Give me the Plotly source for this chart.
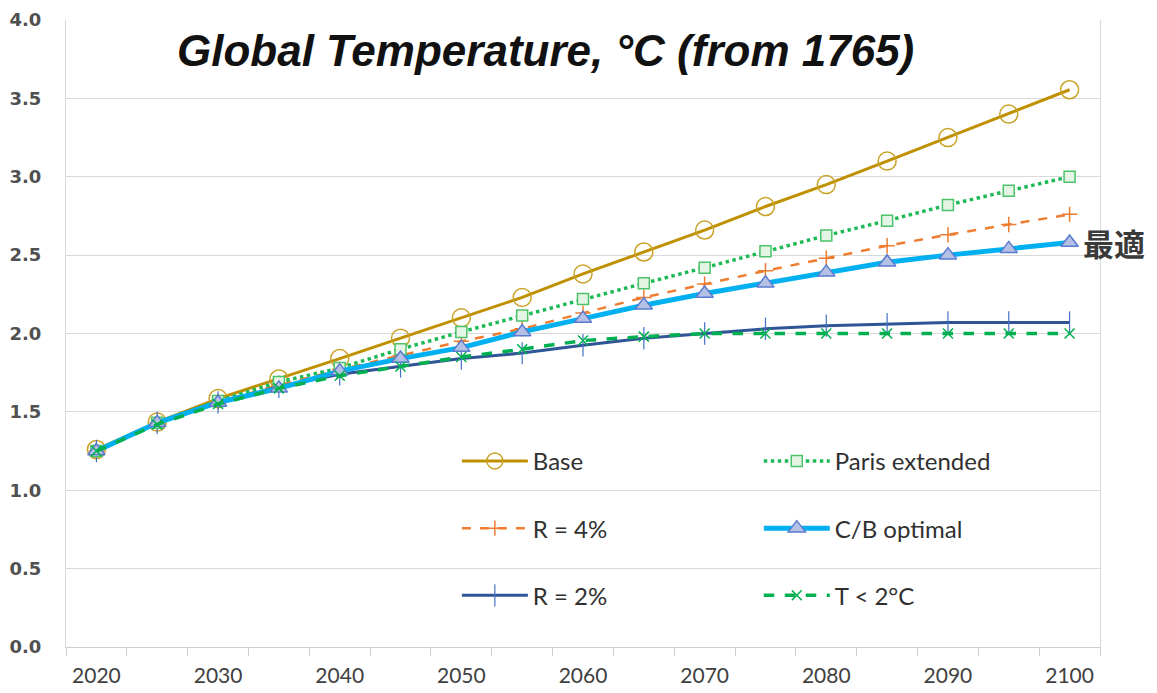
import plotly.graph_objects as go

years = [2020, 2025, 2030, 2035, 2040, 2045, 2050, 2055, 2060, 2065, 2070, 2075, 2080, 2085, 2090, 2095, 2100]

base = [1.26, 1.435, 1.585, 1.71, 1.84, 1.97, 2.10, 2.23, 2.38, 2.52, 2.66, 2.81, 2.95, 3.10, 3.25, 3.40, 3.555]
paris = [1.25, 1.43, 1.57, 1.69, 1.78, 1.90, 2.01, 2.115, 2.22, 2.32, 2.42, 2.525, 2.625, 2.72, 2.82, 2.91, 3.00]
r4 = [1.25, 1.43, 1.565, 1.67, 1.77, 1.86, 1.95, 2.03, 2.13, 2.23, 2.315, 2.40, 2.48, 2.56, 2.63, 2.695, 2.76]
cb = [1.25, 1.43, 1.56, 1.65, 1.76, 1.84, 1.91, 2.01, 2.095, 2.18, 2.255, 2.32, 2.39, 2.455, 2.50, 2.54, 2.58]
r2 = [1.25, 1.43, 1.56, 1.66, 1.74, 1.79, 1.84, 1.875, 1.925, 1.97, 2.00, 2.03, 2.05, 2.06, 2.07, 2.07, 2.07]
t2 = [1.25, 1.42, 1.55, 1.65, 1.73, 1.79, 1.85, 1.90, 1.955, 1.98, 2.00, 2.00, 2.00, 2.00, 2.00, 2.00, 2.00]

x_labels = [2020, 2030, 2040, 2050, 2060, 2070, 2080, 2090, 2100]
y_ticks = [0.0, 0.5, 1.0, 1.5, 2.0, 2.5, 3.0, 3.5, 4.0]

title_text = "Global Temperature, °C (from 1765)"
opt_label = "最適"

fig = go.Figure()

fig.add_trace(go.Scatter(
    x=years, y=base, name="Base", mode="lines+markers", legend="legend", legendgroup="a",
    line=dict(color="#BF9000", width=3),
    marker=dict(symbol="circle-open", size=18, color="#C9A227", line=dict(width=1.5))))
fig.add_trace(go.Scatter(
    x=years, y=r4, name="R = 4%", mode="lines+markers", legend="legend", legendgroup="b",
    line=dict(color="#ED7D31", width=2.5, dash="dash"),
    marker=dict(symbol="cross-thin-open", size=11, color="#ED7D31", line=dict(width=1.5, color="#ED7D31"))))
fig.add_trace(go.Scatter(
    x=years, y=r2, name="R = 2%", mode="lines+markers", legend="legend", legendgroup="c",
    line=dict(color="#2F5597", width=3),
    marker=dict(symbol="line-ns-open", size=16, color="#4472C4", line=dict(width=1.2, color="#4472C4"))))

fig.add_trace(go.Scatter(
    x=years, y=paris, name="Paris extended", mode="lines+markers", legend="legend2", legendgroup="d",
    line=dict(color="#1DB954", width=3.5, dash="dot"),
    marker=dict(symbol="square", size=11, color="#E4F5E6", line=dict(width=1.5, color="#4CC26A"))))
fig.add_trace(go.Scatter(
    x=years, y=cb, name="C/B optimal", mode="lines+markers", legend="legend2", legendgroup="e",
    line=dict(color="#00B0F0", width=5),
    marker=dict(symbol="triangle-up", size=15, color="#B4C0E4", line=dict(width=1.5, color="#5B7BD0"))))
fig.add_trace(go.Scatter(
    x=years, y=t2, name="T < 2°C", mode="lines+markers", legend="legend2", legendgroup="f",
    line=dict(color="#00B050", width=3.5, dash="dash"),
    marker=dict(symbol="x-thin-open", size=10, color="#00B050", line=dict(width=1.5, color="#00B050"))))

fig.add_annotation(
    x=0.464, y=0.952, xref="paper", yref="paper", xanchor="center", yanchor="middle",
    text="<b><i>" + title_text + "</i></b>", showarrow=False,
    font=dict(family="Liberation Sans, Arial, sans-serif", size=44, color="#111111"))

fig.add_annotation(
    x=years[-1], y=cb[-1], xref="x", yref="y", xanchor="left", yanchor="middle", xshift=11,
    text="<b>" + opt_label + "</b>", showarrow=False,
    font=dict(family="Noto Sans CJK JP", size=31, color="#3A3A3A"))

legend_common = dict(
    orientation="v", traceorder="grouped", tracegroupgap=33,
    bgcolor="rgba(0,0,0,0)", borderwidth=0, itemwidth=66,
    font=dict(family="Lato, Carlito, sans-serif", size=24, color="#303030"),
    xanchor="left", yanchor="top", y=0.332)

fig.update_layout(
    width=1149, height=685,
    margin=dict(l=58, r=57, t=12, b=46, autoexpand=False),
    paper_bgcolor="white", plot_bgcolor="white",
    showlegend=True,
    legend=dict(x=0.378, **legend_common),
    legend2=dict(x=0.670, **legend_common),
    xaxis=dict(
        range=[2017.5, 2102.5], tickmode="array", tickvals=x_labels, automargin=False,
        ticktext=[str(v) for v in x_labels], ticks="", showgrid=False, zeroline=False,
        showline=True, linecolor="#D0D0D0", linewidth=1, ticklabelstandoff=10,
        tickfont=dict(family="Lato, Carlito, sans-serif", size=21, color="#404040"),
        minor=dict(tickmode="linear", tick0=2017.5, dtick=5, ticks="outside", ticklen=8,
                   tickcolor="#D0D0D0", tickwidth=1, showgrid=False)),
    yaxis=dict(
        range=[0, 4.0], tickmode="array", tickvals=y_ticks, automargin=False,
        ticktext=["%.1f" % v for v in y_ticks], showgrid=True, gridcolor="#D9D9D9", gridwidth=1,
        zeroline=False, showline=True, mirror=True, linecolor="#D9D9D9", linewidth=1, ticks="",
        ticklabelstandoff=20,
        tickfont=dict(family="DejaVu Sans, Verdana, sans-serif", size=18, color="#505050", weight="bold")),
)

fig.write_html("out.html")
